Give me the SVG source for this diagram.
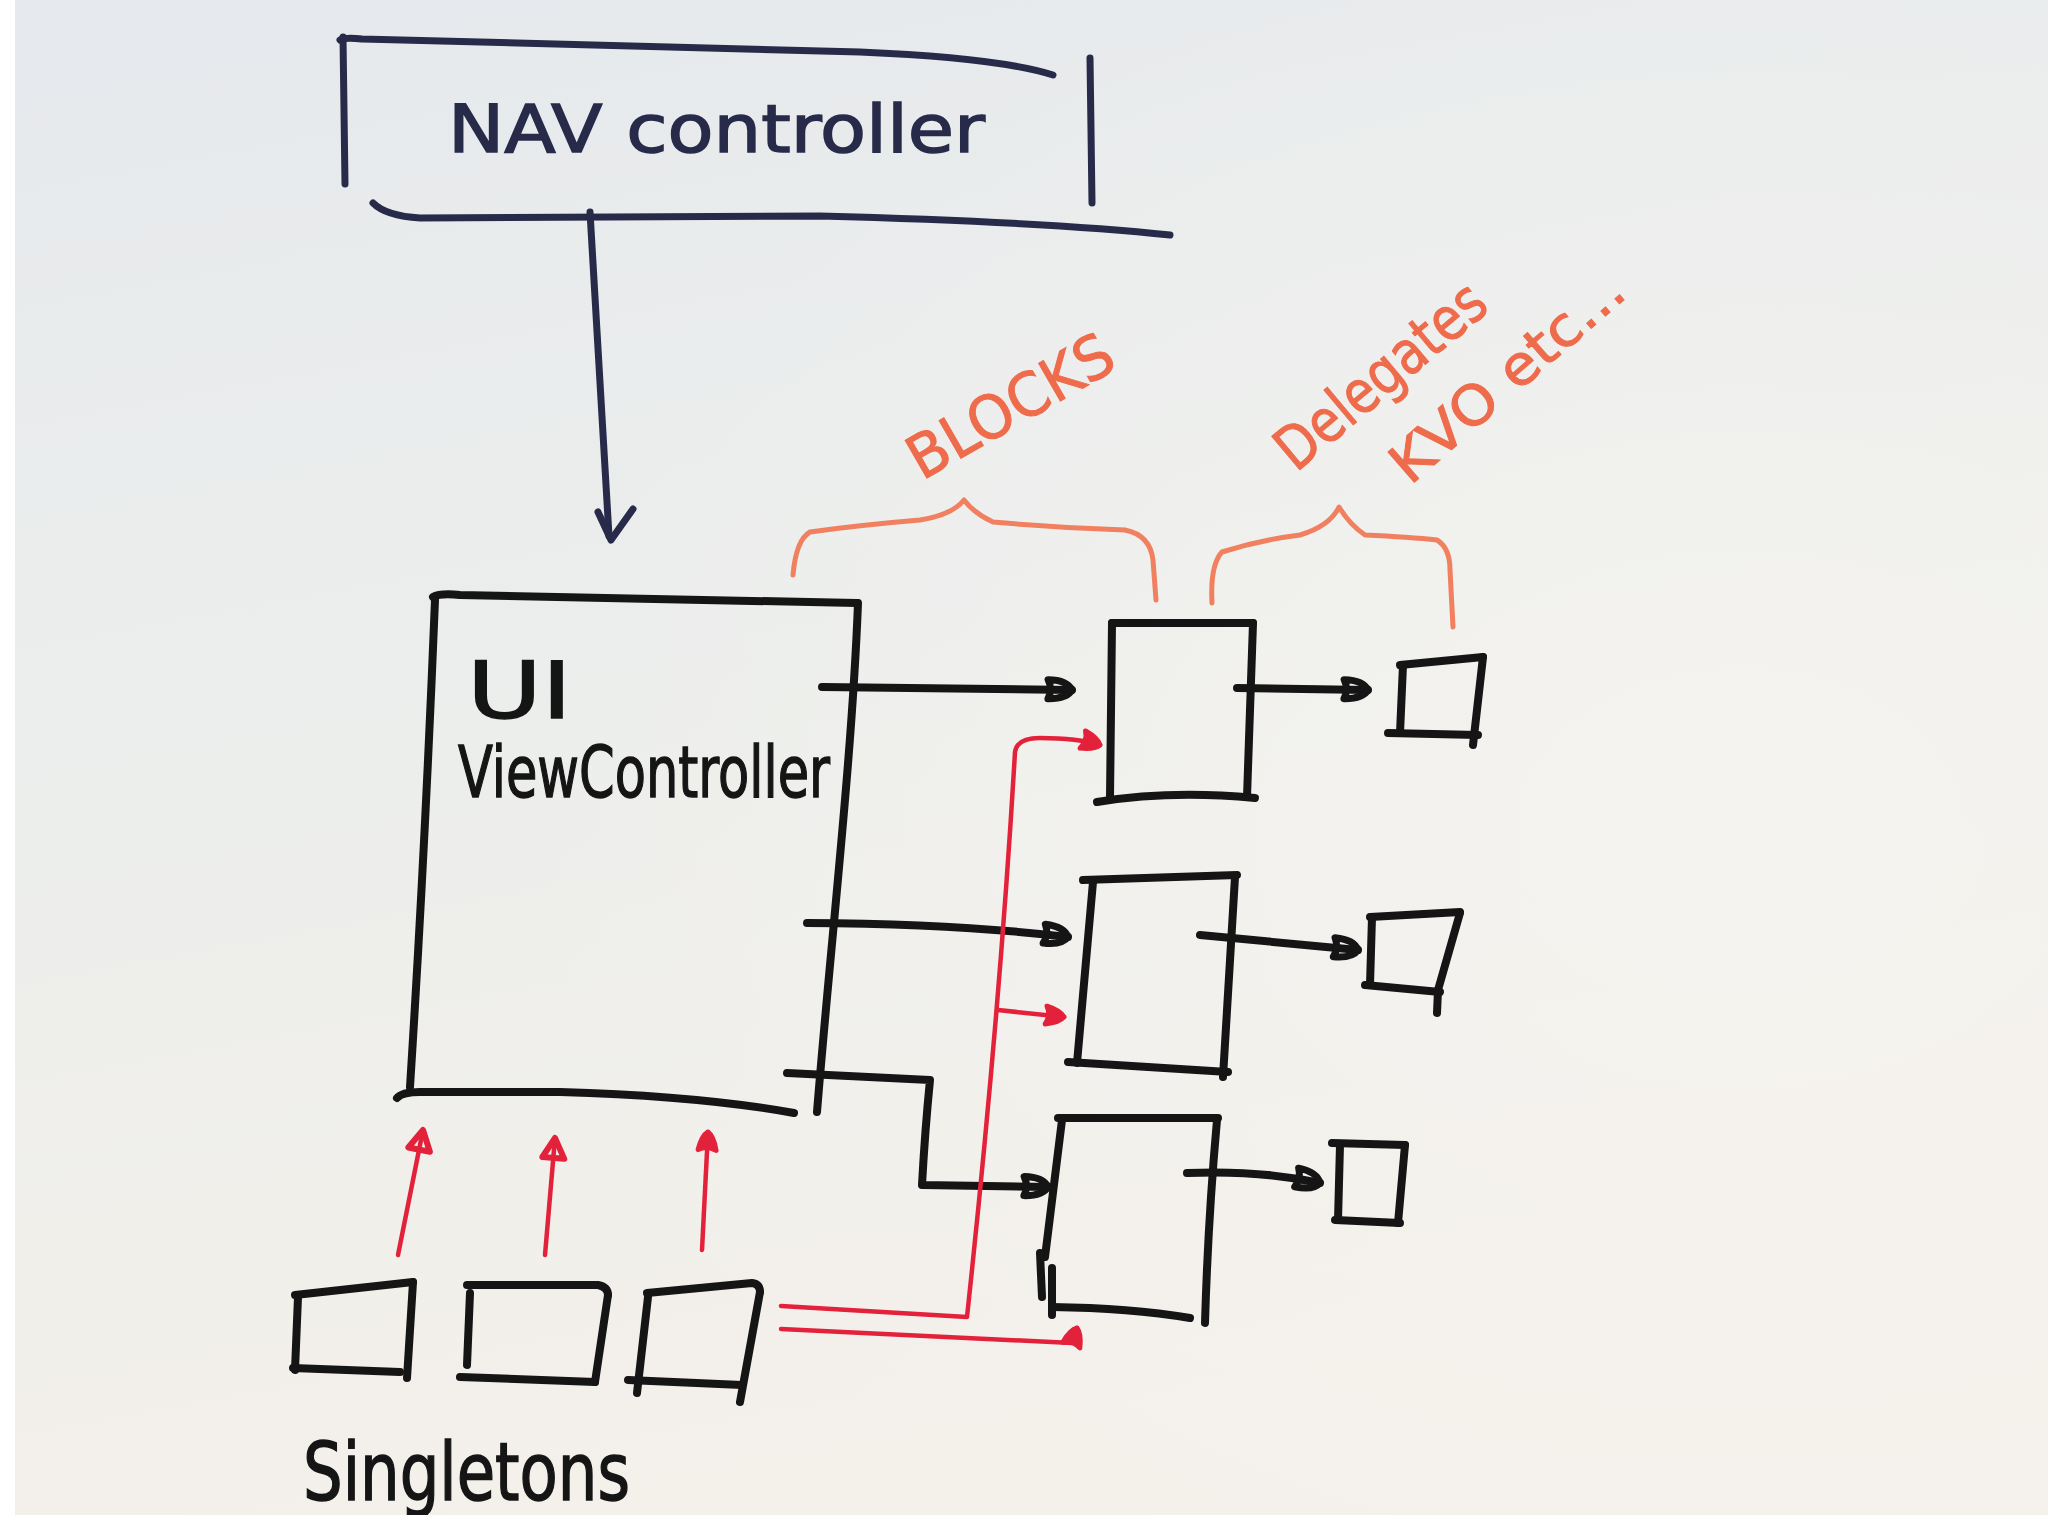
<svg xmlns="http://www.w3.org/2000/svg" width="2048" height="1515" viewBox="0 0 2048 1515">
<defs>
<linearGradient id="bg" x1="0" y1="0" x2="0.25" y2="1">
<stop offset="0" stop-color="#e6e9ed"/>
<stop offset="0.5" stop-color="#eceeec"/>
<stop offset="1" stop-color="#f4f0ea"/>
</linearGradient>
<radialGradient id="glow" cx="0.85" cy="0.55" r="0.6">
<stop offset="0" stop-color="#f6f4f0" stop-opacity="0.8"/>
<stop offset="1" stop-color="#f6f4f0" stop-opacity="0"/>
</radialGradient>
<marker id="ahB" markerUnits="userSpaceOnUse" markerWidth="44" markerHeight="34" viewBox="-34 -17 44 34" refX="0" refY="0" orient="auto">
<path d="M-24,-10 Q-5,-10 0,0 Q-5,9 -24,9 Q-19,0 -24,-10 Z" fill="none" stroke="#151515" stroke-width="7" stroke-linejoin="round"/>
</marker>
<marker id="ahR" markerUnits="userSpaceOnUse" markerWidth="36" markerHeight="30" viewBox="-28 -15 36 30" refX="0" refY="0" orient="auto">
<path d="M-18,-9 Q-4,-6 0,0 Q-4,6 -18,9 Q-13,0 -18,-9 Z" fill="#e3213a" stroke="#e3213a" stroke-width="5" stroke-linejoin="round"/>
</marker>
<marker id="ahRu" markerUnits="userSpaceOnUse" markerWidth="36" markerHeight="34" viewBox="-28 -17 36 34" refX="0" refY="0" orient="auto">
<path d="M-20,-11 L0,0 L-20,11 Z" fill="none" stroke="#e3213a" stroke-width="6" stroke-linejoin="round"/>
</marker>
<style>
.ink{fill:none;stroke:#151515;stroke-width:8;stroke-linecap:round;stroke-linejoin:round}
.navy{fill:none;stroke:#272b49;stroke-width:7;stroke-linecap:round;stroke-linejoin:round}
.red{fill:none;stroke:#e3213a;stroke-width:4.5;stroke-linecap:round;stroke-linejoin:round}
.orange{fill:none;stroke:#f0805f;stroke-width:5;stroke-linecap:round;stroke-linejoin:round}
.txt{font-family:"DejaVu Sans","Liberation Sans",sans-serif;fill:#151515;stroke:#151515;stroke-width:1.5}
.otxt{font-family:"DejaVu Sans","Liberation Sans",sans-serif;fill:#ee6b4b;stroke:#ee6b4b;stroke-width:1}
</style>
</defs>

<rect x="0" y="0" width="2048" height="1515" fill="url(#bg)"/>
<rect x="0" y="0" width="2048" height="1515" fill="url(#glow)"/>
<rect x="0" y="0" width="15" height="1515" fill="#ffffff"/>

<g id="nav-controller">
<path class="navy" d="M343,37 L345,184"/>
<path class="navy" d="M340,40 Q345,37 362,39 L860,52 Q1000,58 1053,75"/>
<path class="navy" d="M1090,58 L1092,203"/>
<path class="navy" d="M373,203 Q386,216 420,218 L820,216 Q1050,222 1170,235"/>
<text class="txt" x="448" y="152" font-size="66" textLength="537" lengthAdjust="spacingAndGlyphs" style="fill:#272b49;stroke:#272b49">NAV controller</text>
</g>

<g id="ui-view-controller">
<path class="ink" d="M433,597 Q440,593 460,595 L857,603"/>
<path class="ink" d="M435,600 Q425,850 410,1087"/>
<path class="ink" d="M858,603 C852,760 830,950 817,1112"/>
<path class="ink" d="M397,1098 Q402,1092 420,1092 L560,1092 Q700,1096 794,1113"/>
<text class="txt" x="467" y="718" font-size="78" textLength="105" lengthAdjust="spacingAndGlyphs">UI</text>
<text class="txt" x="458" y="797" font-size="72" textLength="372" lengthAdjust="spacingAndGlyphs">ViewController</text>
</g>

<g id="block-1">
<path class="ink" d="M1112,623 L1253,623"/>
<path class="ink" d="M1112,623 L1110,798"/>
<path class="ink" d="M1253,623 L1247,797"/>
<path class="ink" d="M1097,802 Q1170,790 1255,798"/>
</g>
<g id="block-2">
<path class="ink" d="M1083,880 L1237,875"/>
<path class="ink" d="M1093,882 L1077,1063"/>
<path class="ink" d="M1235,877 L1223,1077"/>
<path class="ink" d="M1068,1062 L1228,1072"/>
</g>
<g id="block-3">
<path class="ink" d="M1058,1118 L1218,1118"/>
<path class="ink" d="M1217,1120 Q1208,1220 1205,1323"/>
<path class="ink" d="M1062,1120 L1045,1257"/>
<path class="ink" d="M1040,1253 L1042,1297"/>
<path class="ink" d="M1052,1268 L1052,1315"/>
<path class="ink" d="M1052,1307 Q1130,1308 1190,1318"/>
</g>

<g id="delegate-1">
<path class="ink" d="M1400,665 L1483,657"/>
<path class="ink" d="M1403,665 L1400,733"/>
<path class="ink" d="M1388,733 L1478,735"/>
<path class="ink" d="M1483,657 L1473,745"/>
</g>
<g id="delegate-2">
<path class="ink" d="M1370,917 L1460,912"/>
<path class="ink" d="M1372,917 L1370,985"/>
<path class="ink" d="M1365,985 L1440,992"/>
<path class="ink" d="M1460,913 L1438,990 L1437,1013"/>
</g>
<g id="delegate-3">
<path class="ink" d="M1332,1143 L1405,1145"/>
<path class="ink" d="M1340,1145 L1338,1220"/>
<path class="ink" d="M1405,1145 L1398,1223"/>
<path class="ink" d="M1335,1220 L1400,1223"/>
</g>

<g id="singleton-1">
<path class="ink" d="M295,1295 L413,1282"/>
<path class="ink" d="M298,1297 L295,1370"/>
<path class="ink" d="M293,1368 L400,1372"/>
<path class="ink" d="M413,1282 L407,1378"/>
</g>
<g id="singleton-2">
<path class="ink" d="M467,1285 L598,1285 Q608,1287 608,1295"/>
<path class="ink" d="M608,1295 L595,1382"/>
<path class="ink" d="M470,1293 L467,1365"/>
<path class="ink" d="M460,1377 L595,1382"/>
</g>
<g id="singleton-3">
<path class="ink" d="M647,1293 L752,1283 Q760,1284 760,1292"/>
<path class="ink" d="M760,1292 L740,1402"/>
<path class="ink" d="M648,1297 L637,1393"/>
<path class="ink" d="M628,1380 L742,1385"/>
<text class="txt" x="303" y="1500" font-size="80" textLength="327" lengthAdjust="spacingAndGlyphs">Singletons</text>
</g>

<g id="labels">
<path class="orange" d="M793,575 Q796,540 810,532 Q860,525 920,520 Q952,515 964,500 Q975,514 993,522 Q1060,528 1125,530 Q1150,535 1153,560 L1156,600"/>
<path class="orange" d="M1212,603 Q1210,565 1222,552 Q1260,540 1300,535 Q1330,526 1339,507 Q1350,525 1365,535 Q1410,537 1437,540 Q1450,548 1450,570 L1453,627"/>
<text class="otxt" font-size="60" textLength="228" lengthAdjust="spacingAndGlyphs" transform="translate(922,481) rotate(-30)">BLOCKS</text>
<text class="otxt" font-size="60" textLength="255" lengthAdjust="spacingAndGlyphs" transform="translate(1296,473) rotate(-40)">Delegates</text>
<text class="otxt" font-size="55" textLength="290" lengthAdjust="spacingAndGlyphs" transform="translate(1410,486) rotate(-41)">KVO etc...</text>
</g>

<g id="connectors">
<path class="navy" d="M590,212 Q600,380 609,536"/>
<path class="navy" d="M598,512 L611,540 L633,509"/>
<path class="ink" d="M822,687 L1072,690" marker-end="url(#ahB)"/>
<path class="ink" d="M807,923 Q960,924 1068,937" marker-end="url(#ahB)"/>
<path class="ink" d="M787,1073 L930,1080 Q925,1130 922,1185 L1048,1187" marker-end="url(#ahB)"/>
<path class="ink" d="M1237,688 L1368,690" marker-end="url(#ahB)"/>
<path class="ink" d="M1200,935 L1358,950" marker-end="url(#ahB)"/>
<path class="ink" d="M1187,1173 Q1260,1170 1320,1183" marker-end="url(#ahB)"/>
<path class="red" d="M398,1255 L423,1130" marker-end="url(#ahRu)"/>
<path class="red" d="M545,1255 L555,1138" marker-end="url(#ahRu)"/>
<path class="red" d="M702,1250 L708,1132" marker-end="url(#ahR)"/>
<path class="red" d="M781,1306 L967,1317 Q1000,1010 1015,752 Q1017,738 1040,738 Q1078,738 1100,745" marker-end="url(#ahR)"/>
<path class="red" d="M998,1010 L1064,1017" marker-end="url(#ahR)"/>
<path class="red" d="M781,1329 L1072,1343 L1077,1328" marker-end="url(#ahR)"/>
</g>
</svg>
